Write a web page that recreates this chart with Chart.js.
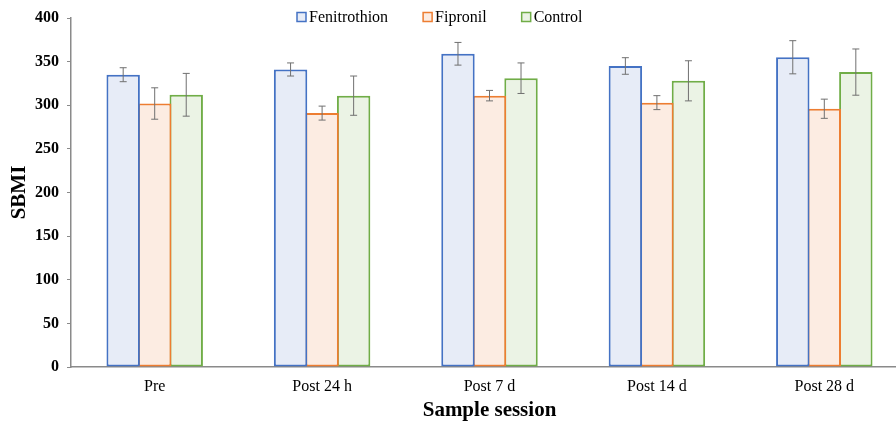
<!DOCTYPE html>
<html>
<head>
<meta charset="utf-8">
<script src="https://cdn.jsdelivr.net/npm/chart.js@4.4.1/dist/chart.umd.min.js"></script>
<style>
  html, body { margin: 0; padding: 0; background: #fff; overflow: hidden; }
  #wrap { width: 908px; height: 424px; }
</style>
</head>
<body>
<div id="wrap"><canvas id="chartBar"></canvas></div>
<script>
const categories = ['Pre', 'Post 24 h', 'Post 7 d', 'Post 14 d', 'Post 28 d'];
const fenitrothion = [335, 341, 359, 345, 355];
const fenitrothionErr = [8, 7.5, 13, 9.5, 19];
const fipronil = [302, 291, 311, 303, 296];
const fipronilErr = [18, 8, 6, 8, 11];
const control = [312, 311, 331, 328, 338];
const controlErr = [24.5, 22.5, 17.5, 23, 26.5];
const yTicks = [0, 50, 100, 150, 200, 250, 300, 350, 400];

const serif = "'Liberation Serif', 'Times New Roman', serif";

// error bars drawn on top of each bar
const errorBars = {
  id: 'errorBars',
  afterDatasetsDraw(chart) {
    const ctx = chart.ctx;
    const y = chart.scales.y;
    ctx.save();
    ctx.strokeStyle = '#707070';
    ctx.lineWidth = 1;
    chart.data.datasets.forEach(function (ds, i) {
      const meta = chart.getDatasetMeta(i);
      meta.data.forEach(function (bar, j) {
        const v = ds.data[j];
        const e = ds.errors[j];
        const top = y.getPixelForValue(v + e);
        const bot = y.getPixelForValue(v - e);
        ctx.beginPath();
        ctx.moveTo(bar.x, top);
        ctx.lineTo(bar.x, bot);
        ctx.moveTo(bar.x - 3.5, top);
        ctx.lineTo(bar.x + 3.5, top);
        ctx.moveTo(bar.x - 3.5, bot);
        ctx.lineTo(bar.x + 3.5, bot);
        ctx.stroke();
      });
    });
    ctx.restore();
  },
};

// legend drawn over the top of the plot like the original
const topLegend = {
  id: 'topLegend',
  afterDraw(chart) {
    const ctx = chart.ctx;
    ctx.save();
    ctx.font = '16px ' + serif;
    ctx.textBaseline = 'middle';
    let x = 297;
    const yMid = 17;
    chart.data.datasets.forEach(function (ds) {
      ctx.fillStyle = ds.backgroundColor;
      ctx.fillRect(x, yMid - 4.5, 9, 9);
      ctx.strokeStyle = ds.borderColor;
      ctx.lineWidth = 1.5;
      ctx.strokeRect(x, yMid - 4.5, 9, 9);
      ctx.fillStyle = '#000';
      ctx.fillText(ds.label, x + 12, yMid + 1);
      x += 12 + ctx.measureText(ds.label).width + 35;
    });
    ctx.restore();
  },
};

const dataBar = {
  labels: categories,
  datasets: [
    {
      label: 'Fenitrothion',
      data: fenitrothion,
      errors: fenitrothionErr,
      backgroundColor: '#e7ecf7',
      borderColor: '#4472c4',
    },
    {
      label: 'Fipronil',
      data: fipronil,
      errors: fipronilErr,
      backgroundColor: '#fcece2',
      borderColor: '#ed7d31',
    },
    {
      label: 'Control',
      data: control,
      errors: controlErr,
      backgroundColor: '#ebf3e5',
      borderColor: '#70ad47',
    },
  ],
};

const configBar = {
  type: 'bar',
  data: dataBar,
  plugins: [errorBars, topLegend],
  options: {
    responsive: true,
    maintainAspectRatio: false,
    animation: false,
    layout: { padding: { top: 18, right: 0, bottom: 0, left: 0 } },
    datasets: {
      bar: {
        borderWidth: 2,
        borderSkipped: false,
        categoryPercentage: 0.565,
        barPercentage: 1.06,
      },
    },
    plugins: {
      legend: { display: false },
      tooltip: { enabled: false },
    },
    scales: {
      x: {
        grid: { display: false, drawTicks: false },
        border: { color: '#8a8a8a', width: 1.5 },
        ticks: {
          color: '#000',
          padding: 10,
          font: { family: serif, size: 16 },
        },
        title: {
          display: true,
          text: 'Sample session',
          color: '#000',
          padding: { top: 0, bottom: 1 },
          font: { family: serif, size: 21, weight: 'bold' },
        },
        afterFit: function (scale) {
          scale.height = 57;
        },
      },
      y: {
        min: 0,
        max: 400,
        afterBuildTicks: function (scale) {
          scale.ticks = yTicks.map(function (v) { return { value: v }; });
        },
        grid: {
          drawOnChartArea: false,
          tickLength: 4,
          color: '#8a8a8a',
        },
        border: { color: '#8a8a8a', width: 1.5 },
        ticks: {
          color: '#000',
          padding: 8,
          font: { family: serif, size: 16, weight: 'bold' },
        },
        title: {
          display: true,
          text: 'SBMI',
          color: '#000',
          padding: { top: 7, bottom: 0 },
          font: { family: serif, size: 21, weight: 'bold' },
        },
        afterFit: function (scale) {
          scale.width = 71;
        },
      },
    },
  },
};

var chartBar = new Chart(document.getElementById('chartBar'), configBar);
</script>
</body>
</html>
